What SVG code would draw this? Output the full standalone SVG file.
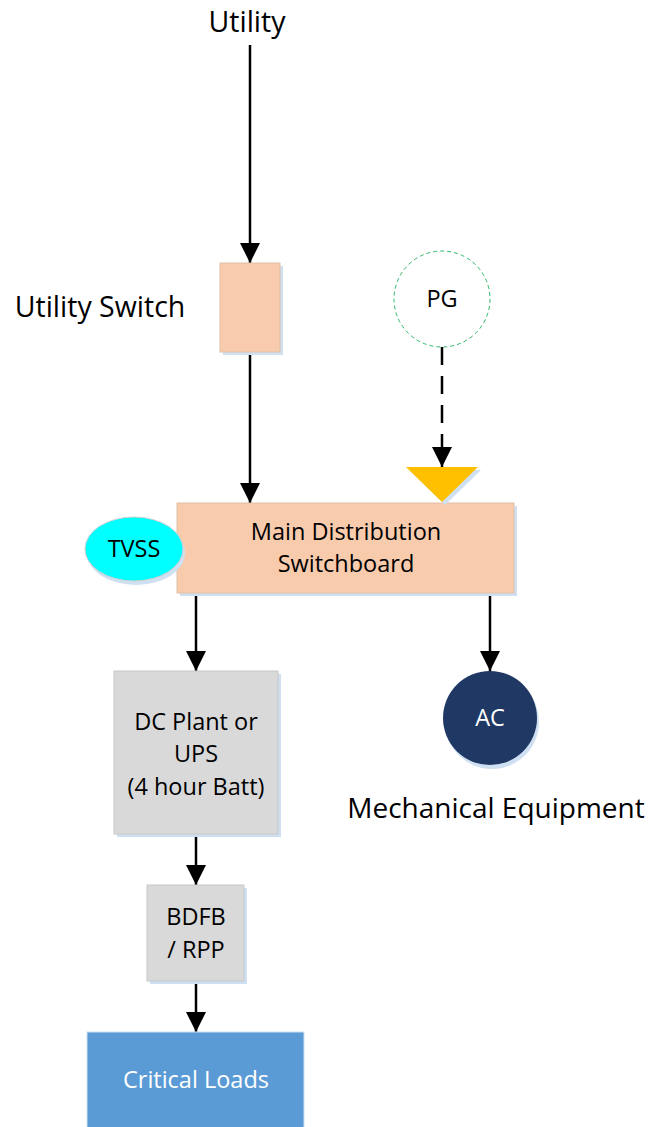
<svg xmlns="http://www.w3.org/2000/svg" width="650" height="1127" viewBox="0 0 650 1127">
<style>
text{font-family:"Open Sans","Noto Sans",sans-serif;fill:#000;text-anchor:middle}
.lbl{font-size:28.5px}
.n{font-size:23.5px}
.conn{stroke:#000;stroke-width:2.5;fill:none}
.sh{fill:#cfe0f2}
</style>
<defs>
<marker id="ah" markerUnits="userSpaceOnUse" markerWidth="20" markerHeight="20" viewBox="0 0 18 18" refX="18" refY="9" orient="auto">
<path d="M0,0 L18,9 L0,18 Z" fill="#000"/>
</marker>
</defs>
<rect width="650" height="1127" fill="#fff"/>
<g id="connectors">
<line class="conn" x1="250" y1="45" x2="250" y2="263" marker-end="url(#ah)"/>
<line class="conn" x1="250" y1="352" x2="250" y2="503" marker-end="url(#ah)"/>
<line class="conn" x1="442" y1="347" x2="442" y2="467" stroke-dasharray="18,11" marker-end="url(#ah)"/>
<line class="conn" x1="196" y1="593" x2="196" y2="671" marker-end="url(#ah)"/>
<line class="conn" x1="490" y1="593" x2="490" y2="671" marker-end="url(#ah)"/>
<line class="conn" x1="196" y1="834" x2="196" y2="885" marker-end="url(#ah)"/>
<line class="conn" x1="196" y1="981" x2="196" y2="1032" marker-end="url(#ah)"/>
</g>
<g id="utility-label"><text class="lbl" x="247" y="32">Utility</text></g>
<g id="utility-switch-label"><text class="lbl" x="100" y="317">Utility Switch</text></g>
<g id="utility-switch">
<rect class="sh" x="223" y="266" width="60" height="89"/>
<rect x="220" y="263" width="60" height="89" fill="#f8cbad" stroke="#e0c0a8" stroke-width="1"/>
</g>
<g id="pg">
<circle cx="442" cy="299" r="48" fill="#fff" stroke="#2fb86a" stroke-width="1" stroke-dasharray="4,3"/>
<text class="n" x="442" y="307">PG</text>
</g>
<g id="main-switchboard">
<rect class="sh" x="180" y="506" width="337" height="90"/>
<rect x="177" y="503" width="337" height="90" fill="#f8cbad" stroke="#e0c0a8" stroke-width="1"/>
<text class="n" x="346" y="540">Main Distribution</text>
<text class="n" x="346" y="572">Switchboard</text>
</g>
<g id="pg-connection">
<polygon points="409,470 481,470 445,505" fill="#cfe0f2"/>
<polygon points="406,467 478,467 442,502" fill="#ffc000"/>
</g>
<g id="tvss">
<ellipse cx="136" cy="553" rx="49" ry="32" fill="#cfe0f2"/>
<ellipse cx="134" cy="549" rx="49" ry="32" fill="#00ffff" stroke="#d0d0d0" stroke-width="1"/>
<text class="n" x="134" y="557">TVSS</text>
</g>
<g id="ac">
<circle cx="492" cy="722" r="47" fill="#cfe0f2"/>
<circle cx="490" cy="718" r="47" fill="#203864"/>
<text class="n" x="490" y="726" style="fill:#fff">AC</text>
</g>
<g id="mechanical-label"><text x="496" y="818" style="font-size:28px">Mechanical Equipment</text></g>
<g id="dc-plant">
<rect class="sh" x="117" y="674" width="164" height="163"/>
<rect x="114" y="671" width="164" height="163" fill="#d9d9d9" stroke="#c8c8c8" stroke-width="1"/>
<text class="n" x="196" y="730">DC Plant or</text>
<text class="n" x="196" y="762">UPS</text>
<text class="n" x="196" y="795">(4 hour Batt)</text>
</g>
<g id="bdfb">
<rect class="sh" x="150" y="888" width="97" height="96"/>
<rect x="147" y="885" width="97" height="96" fill="#d9d9d9" stroke="#c8c8c8" stroke-width="1"/>
<text class="n" x="196" y="925">BDFB</text>
<text class="n" x="196" y="958">/ RPP</text>
</g>
<g id="critical-loads">
<rect x="87" y="1032" width="217" height="100" fill="#5b9bd5" stroke="#cfe0f2" stroke-width="1"/>
<text class="n" x="196" y="1088" style="fill:#fff">Critical Loads</text>
</g>
</svg>
